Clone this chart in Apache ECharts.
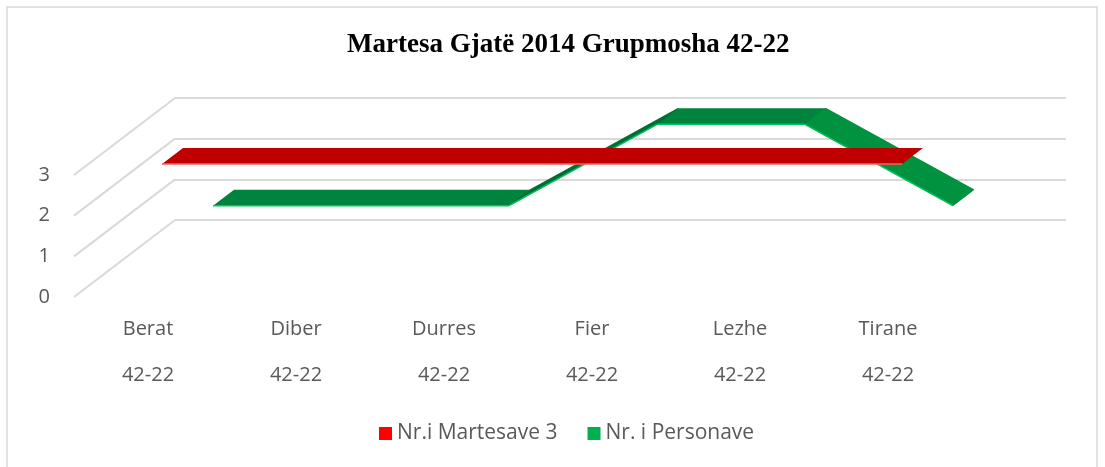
<!DOCTYPE html>
<html>
<head>
<meta charset="utf-8">
<script src="https://cdn.jsdelivr.net/npm/echarts@6/dist/echarts.min.js"></script>
<style>
  html, body { margin: 0; padding: 0; background: #fff; }
  #chart { width: 1105px; height: 467px; }
</style>
</head>
<body>
<div id="chart"></div>
<script>
// data
const categories = ["Berat", "Diber", "Durres", "Fier", "Lezhe", "Tirane"];
const groupLabel = "42-22";
const martesave = [3, 3, 3, 3, 3, 3];
const personave = [2, 2, 2, 4, 4, 2];
const yTicks = [0, 1, 2, 3];

const chart = echarts.init(document.getElementById("chart"));

// fake 3d: each ribbon is shifted a bit and gets some depth
const DEPTH = [21, -16];
const WALL = [101, -77];

// whole ribbon drawn on the first item: one outline, then the sloped parts shaded, then front edges
function ribbon(values, shift, faces, edge) {
    return function (params, api) {
        if (params.dataIndex !== 0) return null;
        const pts = values.map((v, i) => {
            const c = api.coord([i, v]);
            return [c[0] + shift[0], c[1] + shift[1]];
        });
        const back = pts.map((p) => [p[0] + DEPTH[0], p[1] + DEPTH[1]]).reverse();
        const children = [{
            type: "polygon",
            shape: { points: pts.concat(back) },
            style: { fill: faces[0] }
        }];
        const lines = [];
        for (let i = 0; i < pts.length - 1; i++) {
            const A = pts[i], B = pts[i + 1];
            if (values[i + 1] !== values[i]) {
                const face = values[i + 1] < values[i] ? faces[1] : faces[2];
                children.push({
                    type: "polygon",
                    shape: { points: [A, B, [B[0] + DEPTH[0], B[1] + DEPTH[1]], [A[0] + DEPTH[0], A[1] + DEPTH[1]]] },
                    style: { fill: face, stroke: face, lineWidth: 0.6 }
                });
            }
            lines.push({ type: "line", shape: { x1: A[0], y1: A[1], x2: B[0], y2: B[1] }, style: { stroke: edge, lineWidth: 1.5 } });
        }
        return { type: "group", children: children.concat(lines) };
    };
}

const option = {
    animation: false,
    title: {
        text: "Martesa Gjatë 2014 Grupmosha 42-22",
        left: 342,
        top: 27,
        textStyle: { fontFamily: "Liberation Serif", fontWeight: "bold", fontSize: 27, color: "#000" }
    },
    legend: {
        top: 418,
        left: 374,
        icon: "rect",
        itemWidth: 13,
        itemHeight: 13,
        itemGap: 30,
        textStyle: { fontFamily: "Open Sans", fontSize: 21, color: "#595959" },
        data: ["Nr.i Martesave 3", "Nr. i Personave"]
    },
    graphic: [{
        type: "rect",
        shape: { x: 7, y: 7, width: 1090, height: 480 },
        style: { fill: "none", stroke: "#D9D9D9", lineWidth: 1.5 },
        silent: true
    }],
    grid: [
        { left: 74, width: 888, top: 175, height: 122 },
        { left: 175, width: 891, top: 98, height: 122 }
    ],
    xAxis: [
        {
            gridIndex: 0,
            type: "category",
            data: categories,
            boundaryGap: true,
            axisLine: { show: false },
            axisTick: { show: false },
            axisLabel: {
                margin: 9,
                fontFamily: "Open Sans",
                fontSize: 20,
                color: "#595959",
                lineHeight: 46,
                formatter: (v) => v + "\n" + groupLabel
            }
        },
        { gridIndex: 1, type: "category", data: categories, show: false }
    ],
    yAxis: [
        {
            gridIndex: 0,
            type: "value",
            min: 0,
            max: 3,
            interval: 1,
            axisLine: { show: false },
            axisTick: { show: false },
            splitLine: { show: false },
            axisLabel: { margin: 24, fontFamily: "Open Sans", fontSize: 20, color: "#595959" }
        },
        {
            gridIndex: 1,
            type: "value",
            min: 0,
            max: 3,
            interval: 1,
            axisLine: { show: false },
            axisTick: { show: false },
            axisLabel: { show: false },
            splitLine: { lineStyle: { color: "#D9D9D9", width: 2 } }
        }
    ],
    series: [
        {
            // side wall lines
            type: "custom",
            xAxisIndex: 0,
            yAxisIndex: 0,
            silent: true,
            data: yTicks.map((v) => [0, v]),
            encode: { x: 0, y: 1 },
            renderItem: function (params, api) {
                const p = api.coord([0, api.value(1)]);
                const left = p[0] - api.size([1, 0])[0] / 2;
                return {
                    type: "line",
                    shape: { x1: left, y1: p[1], x2: left + WALL[0], y2: p[1] + WALL[1] },
                    style: { stroke: "#D9D9D9", lineWidth: 2 }
                };
            }
        },
        {
            name: "Nr. i Personave",
            type: "custom",
            xAxisIndex: 0,
            yAxisIndex: 0,
            itemStyle: { color: "#00B050" },
            data: personave.map((v, i) => [i, v]),
            encode: { x: 0, y: 1 },
            renderItem: ribbon(personave, [65, -10], ["#00843D", "#00923F", "#006E33"], "#00C45A")
        },
        {
            name: "Nr.i Martesave 3",
            type: "custom",
            xAxisIndex: 0,
            yAxisIndex: 0,
            itemStyle: { color: "#FF0000" },
            data: martesave.map((v, i) => [i, v]),
            encode: { x: 0, y: 1 },
            renderItem: ribbon(martesave, [14, -11], ["#C00000", "#C00000", "#C00000"], "#FF5B5B")
        }
    ]
};

chart.setOption(option);
</script>
</body>
</html>
